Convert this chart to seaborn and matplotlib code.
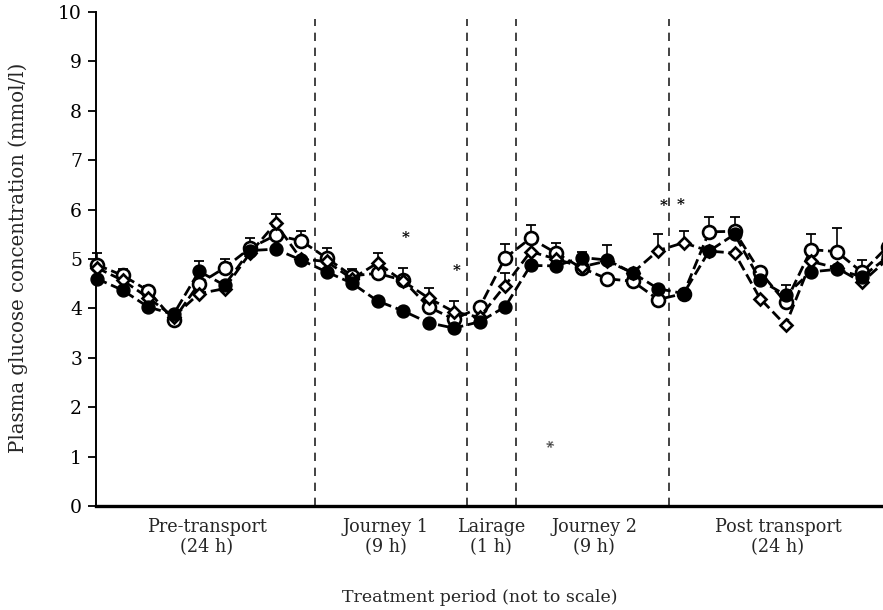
import numpy as np
import pandas as pd
import matplotlib
matplotlib.use("Agg")
import matplotlib.pyplot as plt
import matplotlib.transforms as mtransforms
import seaborn as sns

# Sampling occasions (not to scale) and plasma glucose means (mmol/l)
occasion = list(range(32))
glucose_filled = [4.60, 4.37, 4.03, 3.88, 4.75, 4.47, 5.17, 5.20, 4.98, 4.74, 4.51, 4.15,
                  3.95, 3.71, 3.60, 3.73, 4.03, 4.87, 4.86, 5.03, 4.98, 4.72, 4.40, 4.30,
                  5.16, 5.50, 4.57, 4.27, 4.74, 4.79, 4.64, 5.04]
glucose_open = [4.88, 4.67, 4.36, 3.77, 4.50, 4.82, 5.22, 5.48, 5.37, 5.02, 4.66, 4.71,
                4.57, 4.03, 3.78, 4.02, 5.02, 5.42, 5.12, 4.82, 4.60, 4.55, 4.18, 4.30,
                5.55, 5.56, 4.74, 4.12, 5.19, 5.15, 4.73, 5.25]
glucose_diamond = [4.82, 4.57, 4.22, 3.83, 4.30, 4.40, 5.12, 5.72, 5.00, 4.95, 4.60, 4.92,
                   4.55, 4.21, 3.93, 3.82, 4.46, 5.15, 5.00, 4.84, 4.96, 4.72, 5.17, 5.33,
                   5.16, 5.12, 4.20, 3.66, 4.95, 4.82, 4.53, 5.00]

nan = np.nan
# Upper standard-error bars (only those shown)
se_filled = [nan, nan, nan, nan, 0.20, nan, nan, nan, nan, nan, nan, nan,
             nan, nan, nan, nan, nan, nan, nan, 0.12, 0.30, nan, nan, nan,
             nan, nan, nan, 0.20, nan, nan, nan, nan]
se_open = [0.25, 0.12, 0.10, nan, nan, 0.18, 0.20, nan, 0.20, 0.20, 0.13, nan,
           0.25, nan, nan, nan, 0.28, 0.27, 0.20, nan, nan, nan, nan, nan,
           0.30, 0.30, nan, nan, 0.32, 0.48, 0.25, 0.33]
se_diamond = [nan, nan, nan, nan, nan, nan, nan, 0.20, nan, nan, nan, 0.20,
              nan, 0.20, 0.22, nan, 0.25, nan, nan, nan, nan, nan, 0.33, 0.23,
              nan, nan, nan, nan, nan, nan, nan, nan]

# Treatment period boundaries and labels
period_bounds = [8.55, 14.5, 16.43, 22.43]
period_labels = ["Pre-transport\n(24 h)", "Journey 1\n(9 h)", "Lairage\n(1 h)",
                 "Journey 2\n(9 h)", "Post transport\n(24 h)"]
period_label_pos = [4.31, 11.33, 15.45, 19.5, 26.7]

# Significance marks (occasion, height)
sig_x = [12.1, 14.1, 22.2, 22.9]
sig_y = [5.42, 4.75, 6.07, 6.10]

y_ticks = list(range(0, 11))

sns.set_style("ticks")
plt.rcParams["font.family"] = ["DejaVu Serif"]

fig = plt.figure(figsize=(8.83, 6.10), dpi=100)
ax = fig.add_axes([96 / 883, 104 / 610, (883 - 96) / 883, 494 / 610])

dash = (0, (3.8, 1.7))
common = dict(ax=ax, color="black", linewidth=2.0, linestyle=dash, clip_on=False)

sns.lineplot(x=occasion, y=glucose_open, marker="o", markersize=9.3,
             markerfacecolor="white", markeredgecolor="black", markeredgewidth=1.9,
             zorder=3, **common)
sns.lineplot(x=occasion, y=glucose_diamond, marker="D", markersize=6.4,
             markerfacecolor="white", markeredgecolor="black", markeredgewidth=1.9,
             zorder=4, **common)
sns.lineplot(x=occasion, y=glucose_filled, marker="o", markersize=9.3,
             markerfacecolor="black", markeredgecolor="black", markeredgewidth=1.0,
             zorder=5, **common)

for vals, se in [(glucose_open, se_open), (glucose_diamond, se_diamond),
                 (glucose_filled, se_filled)]:
    v = np.array(vals)
    e = np.array(se)
    m = ~np.isnan(e)
    x = np.array(occasion)[m]
    ax.errorbar(x, v[m], yerr=[np.zeros(m.sum()), e[m]], fmt="none",
                ecolor="black", elinewidth=1.2, capsize=3.5, capthick=1.3,
                zorder=2, clip_on=False)

ax.vlines(period_bounds, 0, 9.85, colors="#222222", linestyles=(0, (5, 4)),
          linewidth=1.2, zorder=1)

for sx, sy in zip(sig_x, sig_y):
    ax.text(sx, sy, "*", ha="center", va="center", fontsize=11,
            fontweight="bold", color="black")
ax.text(17.8, 1.19, "*", ha="center", va="center", fontsize=11,
        fontweight="bold", color="#333333", rotation=20)

trans = mtransforms.blended_transform_factory(ax.transData, ax.transAxes)
for lab, px in zip(period_labels, period_label_pos):
    ax.text(px, -0.063, lab, transform=trans, ha="center", va="center",
            fontsize=12.7, linespacing=1.15, clip_on=False)

ax.set_xlim(-0.04, 30.82)
ax.set_ylim(0, 10)
ax.set_yticks(y_ticks)
ax.set_yticklabels([str(t) for t in y_ticks], fontsize=13.5)
ax.set_xticks([])
ax.tick_params(axis="y", direction="out", length=6, width=1.3, pad=4, colors="black")

sns.despine(ax=ax, top=True, right=True)
ax.spines["left"].set_linewidth(1.4)
ax.spines["left"].set_color("black")
ax.spines["bottom"].set_linewidth(2.4)
ax.spines["bottom"].set_color("black")
ax.spines["left"].set_bounds(0, 10)

fig.text(480 / 883, 1 - 597 / 610, "Treatment period (not to scale)",
         ha="center", va="center", fontsize=12.5)
fig.text(18 / 883, 1 - 258 / 610, "Plasma glucose concentration (mmol/l)",
         ha="center", va="center", rotation=90, fontsize=14.2)

fig.savefig("out.png", dpi=100, facecolor="white")
